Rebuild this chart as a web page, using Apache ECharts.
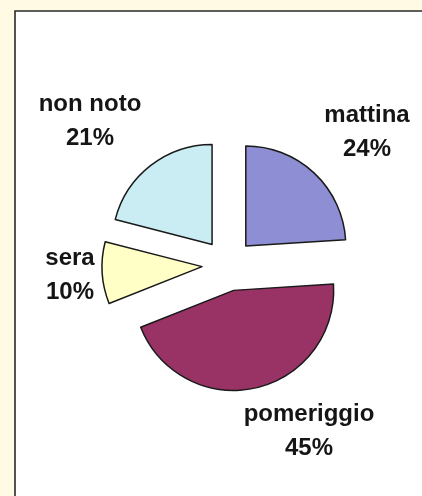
<!DOCTYPE html>
<html>
<head>
<meta charset="utf-8">
<script src="https://cdn.jsdelivr.net/npm/echarts@6/dist/echarts.min.js"></script>
<style>
  html, body { margin: 0; padding: 0; background: #fffae3; }
  #chart { width: 422px; height: 496px; }
</style>
</head>
<body>
<div id="chart"></div>
<script>
// Parts of the day (clockwise from 12 o'clock) and their shares in percent
const categories = ['mattina', 'pomeriggio', 'sera', 'non noto'];
const shares = [24, 45, 10, 21];
const sliceColors = ['#8e8ed4', '#993366', '#ffffc6', '#c9edf3'];

// Centre of each two-line label block, by slice index
const labelSpots = [
  [367, 132],
  [309, 431],
  [70, 275],
  [90, 121]
];

const labelTexts = categories.map(function (name, i) {
  return {
    type: 'text',
    x: labelSpots[i][0],
    y: labelSpots[i][1],
    z: 10,
    style: {
      text: name + '\n' + shares[i] + '%',
      fontFamily: 'Liberation Sans, Arial, sans-serif',
      fontWeight: 'bold',
      fontSize: 24,
      lineHeight: 34,
      fill: '#151515',
      align: 'center',
      verticalAlign: 'middle'
    }
  };
});

const chart = echarts.init(document.getElementById('chart'), null, { renderer: 'canvas' });

chart.setOption({
  animation: false,
  backgroundColor: '#fffae3',
  graphic: [{
    type: 'rect',
    shape: { x: 15, y: 11, width: 430, height: 510 },
    style: { fill: '#ffffff', stroke: '#2a2a2a', lineWidth: 1.6 },
    z: -10
  }].concat(labelTexts),
  series: [{
    type: 'pie',
    center: [228, 265],
    radius: [0, 100],
    startAngle: 90,
    clockwise: true,
    selectedMode: 'multiple',
    selectedOffset: 26,
    itemStyle: { borderColor: '#1a1a1a', borderWidth: 1.5 },
    select: { itemStyle: { borderColor: '#1a1a1a', borderWidth: 1.5 } },
    emphasis: { disabled: true },
    label: { show: false },
    labelLine: { show: false },
    data: categories.map(function (name, i) {
      return {
        name: name,
        value: shares[i],
        selected: true,
        itemStyle: { color: sliceColors[i] }
      };
    })
  }]
});
</script>
</body>
</html>
